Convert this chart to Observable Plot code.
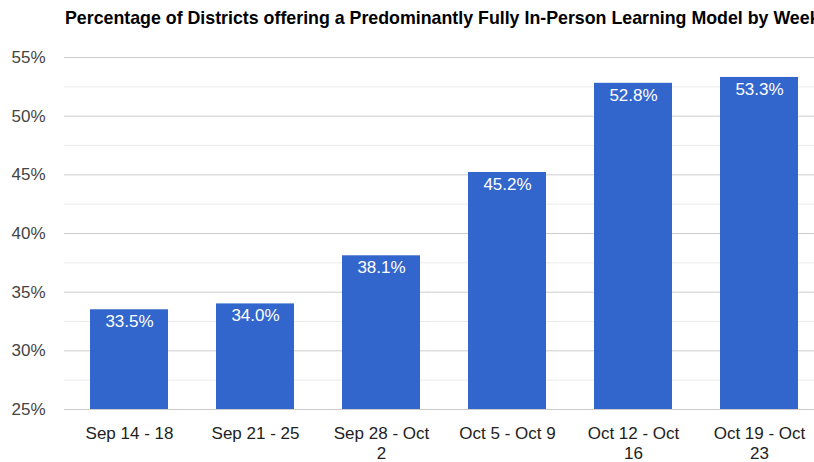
<!DOCTYPE html>
<html>
<head>
<meta charset="utf-8">
<script src="https://cdn.jsdelivr.net/npm/d3@7"></script>
<script src="https://cdn.jsdelivr.net/npm/@observablehq/plot@0.6"></script>
<style>
  html, body { margin: 0; padding: 0; background: #fff; overflow: hidden; width: 814px; height: 462px; }
  #wrap { position: relative; width: 814px; height: 462px; overflow: hidden; }
  #title { position: absolute; left: 65px; top: 8px; white-space: nowrap;
    font: bold 17.8px "Liberation Sans", Arial, sans-serif; color: #000; }
  #chart { position: absolute; left: 0; top: 0; }
</style>
</head>
<body>
<div id="wrap">
  <div id="chart"></div>
  <div id="title">Percentage of Districts offering a Predominantly Fully In-Person Learning Model by Week</div>
</div>
<script>
const weeks = ["Sep 14 - 18", "Sep 21 - 25", "Sep 28 - Oct 2", "Oct 5 - Oct 9", "Oct 12 - Oct 16", "Oct 19 - Oct 23"];
const weekLabels = ["Sep 14 - 18", "Sep 21 - 25", "Sep 28 - Oct\n2", "Oct 5 - Oct 9", "Oct 12 - Oct\n16", "Oct 19 - Oct\n23"];
const percents = [33.5, 34.0, 38.1, 45.2, 52.8, 53.3];
const majorTicks = [25, 30, 35, 40, 45, 50, 55];
const minorTicks = [27.5, 32.5, 37.5, 42.5, 47.5, 52.5];

const data = weeks.map((w, i) => ({week: w, value: percents[i]}));
const labelOf = new Map(weeks.map((w, i) => [w, weekLabels[i]]));

const chart = Plot.plot({
  width: 814,
  height: 462,
  marginTop: 57,
  marginBottom: 53,
  marginLeft: 64,
  marginRight: 0,
  style: {fontFamily: "'Liberation Sans', Arial, sans-serif", fontSize: "17px", background: "transparent", overflow: "hidden"},
  x: {domain: weeks, range: [64, 824], paddingInner: 0.38, paddingOuter: 0.19, label: null},
  y: {domain: [25, 55], label: null},
  marks: [
    Plot.ruleY(minorTicks, {stroke: "#ebebeb", strokeWidth: 1}),
    Plot.ruleY(majorTicks, {stroke: "#cccccc", strokeWidth: 1}),
    Plot.barY(data, {x: "week", y1: 25, y2: "value", fill: "#3366cc"}),
    Plot.text(data, {x: "week", y: "value", text: d => d.value.toFixed(1) + "%", fill: "#ffffff", dy: 12, fontSize: 17}),
    Plot.axisY(majorTicks, {tickSize: 0, tickPadding: 19, tickFormat: d => d + "%", fill: "#444444", fontSize: 17, label: null}),
    Plot.axisX({tickSize: 0, tickPadding: 15, tickFormat: d => labelOf.get(d), fill: "#222222", fontSize: 17, lineHeight: 1.2, label: null})
  ]
});
document.getElementById("chart").appendChild(chart);
</script>
</body>
</html>
